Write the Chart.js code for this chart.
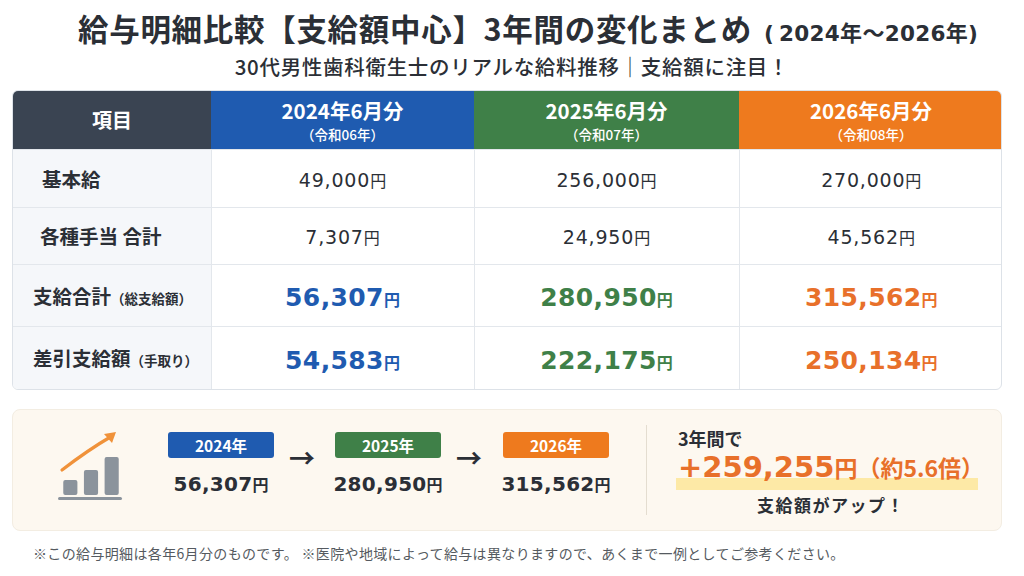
<!DOCTYPE html>
<html lang="ja">
<head>
<meta charset="utf-8">
<script src="https://cdn.jsdelivr.net/npm/chart.js@4.4.1/dist/chart.umd.min.js"></script>
<style>
  html,body{margin:0;padding:0;}
  body{width:1024px;height:576px;background:#ffffff;position:relative;overflow:hidden;
       font-family:"Noto Sans CJK JP","Noto Sans",sans-serif;color:#2b2f36;text-spacing-trim:space-all;}
  .abs{position:absolute;}
  #title{left:78px;top:10px;line-height:36px;height:36px;font-weight:700;font-size:30.5px;letter-spacing:0.7px;white-space:nowrap;}
  #title small{font-size:22px;font-weight:700;letter-spacing:0.3px;margin-left:12px;}
  #title small .num{font-size:21.5px;}
  #title small .p{margin-right:5px;}
  #subtitle{left:0;width:1024px;top:51.5px;line-height:28px;text-align:center;font-size:20.5px;font-weight:500;color:#2b2f36;white-space:nowrap;letter-spacing:0.7px;}
  #tbl{left:12px;top:90px;width:990px;height:300px;border:1px solid #dde2e8;border-radius:6px;overflow:hidden;box-sizing:border-box;}
  table{border-collapse:collapse;width:100%;height:100%;table-layout:fixed;}
  th{color:#fff;font-weight:700;padding:0;vertical-align:top;}
  th.hd{vertical-align:middle;}
  th .y{font-size:20.5px;display:block;line-height:29px;margin-top:5px;}
  th .r{font-size:13.5px;display:block;font-weight:500;line-height:19px;}
  td{border-top:1px solid #e3e7ec;border-left:1px solid #e3e7ec;text-align:center;padding:0;}
  td.lab{text-align:left;background:#f5f7fa;border-left:none;font-weight:700;font-size:19.5px;padding-left:20px;white-space:nowrap;}
  td.lab small{font-size:13.5px;}
  .num{font-family:"DejaVu Sans",Verdana,sans-serif;}
  td.plain{font-size:19px;color:#2b2f36;}
  td.plain .num{letter-spacing:0.8px;}
  td.plain .yen{font-size:16px;}
  td.big{font-size:25px;font-weight:700;}
  td.big .num{letter-spacing:0.4px;}
  td.big .yen{font-size:16px;font-weight:700;}
  #box{left:12px;top:409px;width:990px;height:122px;background:#fdf8f0;border:1px solid #f3ede2;border-radius:8px;box-sizing:border-box;}
  .badge{width:106px;height:26px;border-radius:3px;color:#fff;font-weight:700;font-size:15.5px;text-align:center;line-height:26px;}
  .bval{font-size:20px;font-weight:700;text-align:center;width:140px;}
  .bval .num{letter-spacing:0.3px;}
  .bval .yen{font-size:16px;}
  .arrow{font-size:26px;font-weight:700;color:#2b2f36;}
  #divider{left:646px;top:425px;width:1px;height:90px;background:#e4ddd0;}
  #foot{left:33px;top:543px;font-size:14px;letter-spacing:0.35px;color:#555a60;white-space:nowrap;}
  #iconwrap{left:58px;top:428px;width:66px;height:72px;}
</style>
</head>
<body>
<script>
// ---- data ----
const periods = ["2024年6月分", "2025年6月分", "2026年6月分"];
const eras = ["（令和06年）", "（令和07年）", "（令和08年）"];
const years = ["2024年", "2025年", "2026年"];
const rowLabels = ["基本給", "各種手当 合計", "支給合計", "差引支給額"];
const rowNotes = ["", "", "（総支給額）", "（手取り）"];
const basePay = [49000, 256000, 270000];
const allowances = [7307, 24950, 45562];
const grossPay = [56307, 280950, 315562];
const netPay = [54583, 222175, 250134];
const iconBars = [15, 25, 38];
const increase = 259255;
const ratioLabel = "約5.6倍";
// ---- style ----
const colColors = ["#1f5bb0", "#3f8048", "#ee7a1e"];
const txtColors = ["#1f5bb0", "#3f8048", "#e8702a"];
</script>

<div id="title" class="abs">給与明細比較【支給額中心】3年間の変化まとめ<small><span class="num p">(</span><span class="num">2024</span>年〜<span class="num">2026</span>年<span class="num">)</span></small></div>
<div id="subtitle" class="abs">30代男性歯科衛生士のリアルな給料推移｜支給額に注目！</div>

<div id="tbl" class="abs"><table id="t"></table></div>

<div id="box" class="abs"></div>
<div id="iconwrap" class="abs">
  <svg class="abs" style="left:0;top:0" width="66" height="72">
    <path d="M4 42 Q30 22 54 8" stroke="#f0923a" stroke-width="3.2" fill="none" stroke-linecap="round"/>
    <polygon points="58,4 46,6 54,15" fill="#f0923a"/>
    <rect x="0" y="69" width="64" height="3" rx="1.5" fill="#8b939c"/>
  </svg>
  <canvas id="icon" class="abs" style="left:2px;top:0px;width:62px;height:67px" width="62" height="67"></canvas>
</div>
<div id="bottom"></div>
<div id="divider" class="abs"></div>
<div class="abs" style="left:678px;top:425px;font-size:18px;font-weight:700;">3年間で</div>
<div class="abs" style="left:676px;top:478px;width:302px;height:12px;background:#fde9a6;"></div>
<div class="abs" id="inc" style="left:678px;top:450px;white-space:nowrap;color:#e8702a;font-weight:700;"></div>
<div class="abs" style="left:681px;top:492px;width:300px;text-align:center;font-size:17px;font-weight:700;letter-spacing:1.5px;">支給額がアップ！</div>

<div id="foot" class="abs">※この給与明細は各年6月分のものです。 ※医院や地域によって給与は異なりますので、あくまで一例としてご参考ください。</div>

<script>
const fmt = v => v.toLocaleString("en-US");
// table
const t = document.getElementById("t");
let h = '<colgroup><col style="width:198px"><col style="width:263px"><col style="width:265px"><col style="width:264px"></colgroup>';
h += '<tr style="height:58px"><th class="hd" style="background:#3a4452;font-size:20px">項目</th>';
periods.forEach((p,i)=>{ h += `<th style="background:${colColors[i]}"><span class="y">${p}</span><span class="r">${eras[i]}</span></th>`; });
h += '</tr>';
const rows = [basePay, allowances, grossPay, netPay];
const heights = [58, 57, 62, 63];
rows.forEach((r,ri)=>{
  h += `<tr style="height:${heights[ri]}px"><td class="lab" style="${ri<2?'padding-left:'+(ri==0?29:27)+'px':''}">${rowLabels[ri]}${rowNotes[ri]?'<small>'+rowNotes[ri]+'</small>':''}</td>`;
  r.forEach((v,ci)=>{
    if(ri<2) h += `<td class="plain"><span class="num">${fmt(v)}</span><span class="yen">円</span></td>`;
    else h += `<td class="big" style="color:${txtColors[ci]}"><span class="num">${fmt(v)}</span><span class="yen">円</span></td>`;
  });
  h += '</tr>';
});
t.innerHTML = h;

// bottom flow
const bx = [168, 335, 503];
let b = '';
years.forEach((y,i)=>{
  b += `<div class="abs badge" style="left:${bx[i]}px;top:432px;background:${colColors[i]}">${y}</div>`;
  b += `<div class="abs bval" style="left:${bx[i]-17}px;top:468px"><span class="num">${fmt(grossPay[i])}</span><span class="yen">円</span></div>`;
  if(i<2) b += `<div class="abs arrow" style="left:${bx[i]+121}px;top:438px">→</div>`;
});
document.getElementById("bottom").innerHTML = b;
document.getElementById("inc").innerHTML =
  `<span class="num" style="font-size:29px">+${fmt(increase)}</span><span style="font-size:23px">円（${ratioLabel}）</span>`;

// icon bar chart
new Chart(document.getElementById("icon"), {
  type: "bar",
  data: { labels: ["a","b","c"], datasets: [{ data: iconBars, backgroundColor: "#8b939c", borderRadius: 2, borderSkipped: false, barPercentage: 0.72, categoryPercentage: 0.95 }] },
  options: {
    responsive: false, animation: false, devicePixelRatio: 1,
    layout: { padding: 0 },
    plugins: { legend: { display: false }, tooltip: { enabled: false } },
    scales: { x: { display: false }, y: { display: false, min: 0, max: 67 } }
  }
});
</script>
</body>
</html>
